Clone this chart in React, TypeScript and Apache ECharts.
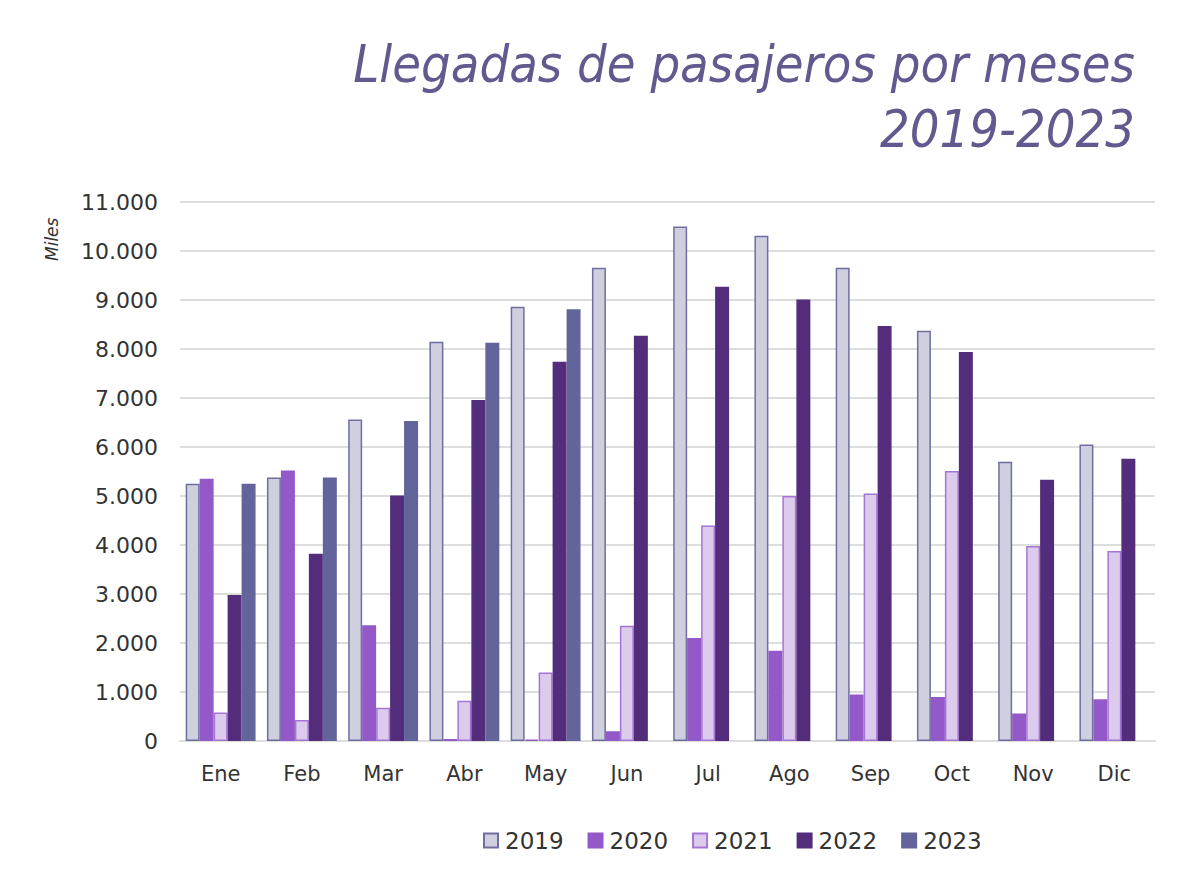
import React, { useEffect, useRef } from "react";
import * as echarts from "echarts";

const months = ["Ene", "Feb", "Mar", "Abr", "May", "Jun", "Jul", "Ago", "Sep", "Oct", "Nov", "Dic"];
const y2019 = [5250, 5380, 6560, 8150, 8860, 9660, 10500, 10310, 9660, 8370, 5700, 6050];
const y2020 = [5350, 5520, 2360, 40, 30, 200, 2100, 1840, 950, 900, 560, 850];
const y2021 = [580, 430, 680, 820, 1400, 2350, 4400, 5000, 5050, 5510, 3980, 3880];
const y2022 = [2980, 3820, 5010, 6960, 7740, 8270, 9270, 9010, 8470, 7940, 5330, 5760];
const y2023 = [5250, 5380, 6530, 8130, 8810, null, null, null, null, null, null, null];

const seriesDefs = [
  { name: "2019", data: y2019, fill: "#cfcfe0", border: "#6e6ea0" },
  { name: "2020", data: y2020, fill: "#9359c8", border: "#9359c8" },
  { name: "2021", data: y2021, fill: "#dccbec", border: "#a476d4" },
  { name: "2022", data: y2022, fill: "#532d7c", border: "#532d7c" },
  { name: "2023", data: y2023, fill: "#63649a", border: "#63649a" },
];

const titleLine1 = "Llegadas de pasajeros por meses";
const titleLine2 = "2019-2023";

const fmt = (v: number) => String(v).replace(/\B(?=(\d{3})+(?!\d))/g, ".");

export default function App() {
  const ref = useRef<HTMLDivElement>(null);
  useEffect(() => {
    const chart = echarts.init(ref.current!, null, { renderer: "svg" });
    const titleStyle = {
      fontFamily: "DejaVu Sans Condensed",
      fontStyle: "italic",
      fontSize: 52,
      fill: "#62598f",
      align: "right",
      verticalAlign: "top",
    };
    chart.setOption({
      animation: false,
      backgroundColor: "#ffffff",
      legend: {
        bottom: 28,
        left: 478,
        itemWidth: 14,
        itemHeight: 14,
        itemGap: 24,
        textStyle: { fontFamily: "DejaVu Sans", fontSize: 23, color: "#333", padding: [0, 0, 0, 2] },
        data: seriesDefs.map((s) => ({ name: s.name, icon: "rect" })),
      },
      grid: { left: 180, right: 45, top: 202, bottom: 144 },
      xAxis: {
        type: "category",
        data: months,
        axisTick: { show: false },
        axisLine: { show: true, lineStyle: { color: "#dddddd", width: 2 } },
        axisLabel: { fontFamily: "DejaVu Sans", fontSize: 21, color: "#333", margin: 22 },
      },
      yAxis: {
        type: "value",
        min: 0,
        max: 11000,
        interval: 1000,
        axisLabel: {
          fontFamily: "DejaVu Sans",
          fontSize: 22,
          color: "#333",
          margin: 22,
          formatter: (v: number) => fmt(v),
        },
        splitLine: { lineStyle: { color: "#dddddd", width: 2 } },
        axisLine: { show: false },
        axisTick: { show: false },
      },
      series: seriesDefs.map((s) => ({
        name: s.name,
        type: "bar",
        data: s.data,
        barGap: "0%",
        barCategoryGap: "14%",
        itemStyle: { color: s.fill, borderColor: s.border, borderWidth: 1.5 },
      })),
      graphic: [
        {
          type: "text",
          x: 1135,
          y: 38,
          style: { ...titleStyle, text: titleLine1 },
        },
        {
          type: "text",
          x: 1135,
          y: 103,
          style: { ...titleStyle, text: titleLine2 },
        },
        {
          type: "text",
          x: 43,
          y: 261,
          rotation: Math.PI / 2,
          style: {
            text: "Miles",
            fontFamily: "DejaVu Sans",
            fontStyle: "italic",
            fontSize: 17,
            fill: "#333",
          },
        },
      ],
    });
    return () => chart.dispose();
  }, []);
  return <div ref={ref} style={{ position: "fixed", left: 0, top: 0, width: 1200, height: 885 }} />;
}
